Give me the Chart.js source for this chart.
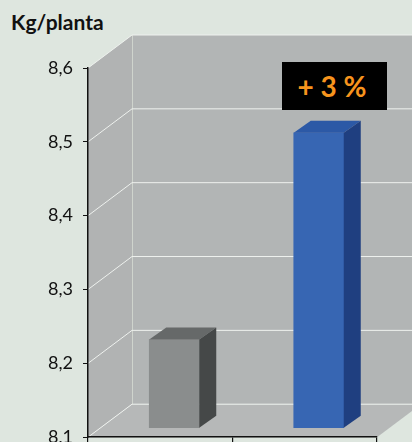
<!DOCTYPE html>
<html lang="en">
<head>
    <meta charset="UTF-8" />
    <title>Kg/planta</title>
    <script src="https://cdn.jsdelivr.net/npm/chart.js"></script>
    <style>
        html, body { margin: 0; padding: 0; background: #dee6df; overflow: hidden; }
        html { height: 442px; }
        body { position: relative; width: 412px; height: 442px; }
        canvas { position: absolute; left: 0; top: 0; }
        .unit {
            position: absolute; left: 11px; top: 9px;
            font: 700 21px Lato, sans-serif; color: #111;
        }
        .badge {
            position: absolute; left: 282px; top: 62px; width: 100px; height: 48px; padding-right: 5px;
            background: #000; color: #f7941d; text-align: center;
            font: 700 28px/48px Lato, sans-serif; white-space: pre;
        }
    </style>
</head>
<body>
    <div class="unit">Kg/planta</div>
    <!-- canvas runs past the window: the picture is cut just under the x axis -->
    <canvas id="chart" width="412" height="458"></canvas>
    <div class="badge">+ 3 %</div>

    <script>
        const categories = ['', ''];
        const values = [8.22, 8.5];
        const axisFloor = 8.1;
        const tickLabels = ['8,6', '8,5', '8,4', '8,3', '8,2', '8,1'];
        const frontColors = ['#8a8d8d', '#3766b3'];
        const topColors = ['#666969', '#2c59a6'];
        const sideColors = ['#454848', '#1f3f80'];

        // depth of the room and of the bars, in pixels
        const roomDepth = { x: 44, y: -33 };
        const barDepth = { x: 17, y: -12 };
        const barShift = { x: 14, y: -9 };

        function poly(ctx, color, pts) {
            ctx.fillStyle = color;
            ctx.beginPath();
            pts.forEach((p, i) => i ? ctx.lineTo(p[0], p[1]) : ctx.moveTo(p[0], p[1]));
            ctx.closePath();
            ctx.fill();
        }

        const room3d = {
            id: 'room3d',
            beforeDraw(chart) {
                const { ctx, chartArea: a, scales } = chart;
                const dx = roomDepth.x, dy = roomDepth.y;
                poly(ctx, '#b2b5b5', [[a.left + dx, a.top + dy], [a.right + dx, a.top + dy], [a.right + dx, a.bottom + dy], [a.left + dx, a.bottom + dy]]);
                poly(ctx, '#b1b3b3', [[a.left, a.top], [a.left + dx, a.top + dy], [a.left + dx, a.bottom + dy], [a.left, a.bottom]]);
                poly(ctx, '#b6b8b8', [[a.left, a.bottom], [a.left + dx, a.bottom + dy], [a.right + dx, a.bottom + dy], [a.right, a.bottom]]);

                ctx.strokeStyle = '#cfd4cd';
                ctx.lineWidth = 1;
                ctx.beginPath();
                ctx.moveTo(a.left + dx + 0.5, a.top + dy);
                ctx.lineTo(a.left + dx + 0.5, a.bottom + dy);
                ctx.stroke();

                ctx.strokeStyle = '#eef1ee';
                scales.y.ticks.forEach(t => {
                    const y = scales.y.getPixelForValue(t.value);
                    ctx.beginPath();
                    ctx.moveTo(a.left, y);
                    ctx.lineTo(a.left + dx, y + dy);
                    ctx.lineTo(a.right + dx, y + dy);
                    ctx.stroke();
                });
            },
            beforeDatasetsDraw(chart) {
                chart.ctx.save();
                chart.ctx.translate(barShift.x, barShift.y);
            },
            afterDatasetsDraw(chart) {
                const ctx = chart.ctx;
                chart.getDatasetMeta(0).data.forEach((bar, i) => {
                    const l = bar.x - bar.width / 2, r = bar.x + bar.width / 2;
                    const dx = barDepth.x, dy = barDepth.y;
                    poly(ctx, topColors[i], [[l, bar.y], [l + dx, bar.y + dy], [r + dx, bar.y + dy], [r, bar.y]]);
                    poly(ctx, sideColors[i], [[r, bar.y], [r + dx, bar.y + dy], [r + dx, bar.base + dy], [r, bar.base]]);
                });
                ctx.restore();
            }
        };

        new Chart(document.getElementById('chart'), {
            type: 'bar',
            data: {
                labels: categories,
                datasets: [{
                    data: values,
                    base: axisFloor,
                    backgroundColor: frontColors,
                    barThickness: 50,
                    clip: false
                }]
            },
            options: {
                responsive: false,
                animation: false,
                layout: { padding: { top: 68, right: 35, left: 0, bottom: 0 } },
                plugins: { legend: { display: false }, tooltip: { enabled: false } },
                scales: {
                    x: {
                        ticks: { display: false },
                        grid: { drawOnChartArea: false, tickLength: 6, color: '#111', lineWidth: 1.2 },
                        border: { color: '#111', width: 1.5 },
                        afterFit(s) { s.height = 6; }
                    },
                    y: {
                        min: axisFloor,
                        max: 8.6,
                        ticks: {
                            stepSize: 0.1,
                            autoSkip: false,
                            padding: 10,
                            color: '#111',
                            font: { family: 'Lato', size: 18 },
                            callback: (v, i) => tickLabels[tickLabels.length - 1 - i]
                        },
                        grid: { drawOnChartArea: false, tickLength: 5, color: '#111', lineWidth: 1 },
                        border: { color: '#111', width: 1.5 },
                        afterFit(s) { s.width = 88; }
                    }
                }
            },
            plugins: [room3d]
        });
    </script>
</body>
</html>
